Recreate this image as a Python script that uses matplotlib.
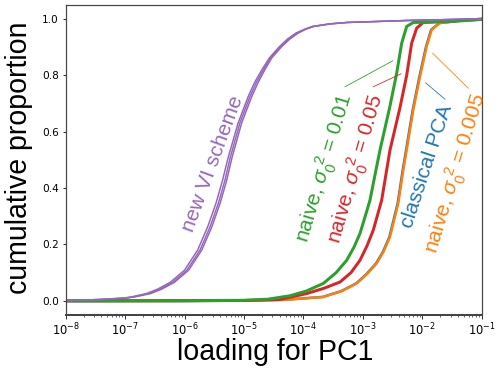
import matplotlib
matplotlib.use("Agg")
import matplotlib.pyplot as plt
import numpy as np

plt.rcParams['mathtext.fontset'] = 'custom'
plt.rcParams['mathtext.rm'] = 'Liberation Sans'
plt.rcParams['mathtext.it'] = 'Liberation Sans:italic'

# ---- data: log10(loading) vs cumulative proportion ----
purple_mid_logx = [-8.0, -7.42, -7.0, -6.87, -6.60, -6.41, -6.20, -5.96, -5.74, -5.57, -5.43,
                   -5.32, -5.235, -5.07, -4.90, -4.79, -4.675, -4.55, -4.39, -4.25, -4.11,
                   -3.97, -3.84, -3.55, -3.27, -2.26, -1.0]
purple_a_logx = [-8.0, -7.44, -7.03, -6.90, -6.64, -6.45, -6.24, -6.00, -5.78, -5.61, -5.47,
                 -5.36, -5.27, -5.10, -4.93, -4.82, -4.70, -4.57, -4.41, -4.27, -4.13,
                 -3.98, -3.85, -3.56, -3.27, -2.26, -1.0]
purple_b_logx = [-8.0, -7.40, -6.98, -6.84, -6.57, -6.38, -6.17, -5.93, -5.71, -5.54, -5.40,
                 -5.29, -5.205, -5.04, -4.87, -4.76, -4.65, -4.53, -4.37, -4.23, -4.09,
                 -3.96, -3.82, -3.54, -3.26, -2.25, -1.0]
purple_y = [0.001, 0.005, 0.010, 0.014, 0.026, 0.042, 0.066, 0.109, 0.180, 0.263, 0.347,
            0.428, 0.505, 0.630, 0.724, 0.775, 0.819, 0.862, 0.900, 0.928, 0.949,
            0.963, 0.973, 0.982, 0.987, 0.994, 1.0]

green_logx = [-8.0, -6.0, -5.0, -4.60, -4.23, -3.95, -3.665, -3.45, -3.272, -3.15, -3.048,
              -2.96, -2.88, -2.779, -2.711, -2.543, -2.43, -2.346, -2.262, -2.151, -1.533, -1.0]
green_y = [0.0, 0.0005, 0.002, 0.006, 0.018, 0.035, 0.062, 0.100, 0.144, 0.19, 0.239,
           0.30, 0.357, 0.464, 0.535, 0.691, 0.808, 0.914, 0.973, 0.987, 0.990, 0.998]

red_logx = [-8.0, -6.0, -5.0, -4.394, -3.945, -3.65, -3.384, -3.20, -3.048, -2.93, -2.824,
            -2.683, -2.599, -2.543, -2.375, -2.262, -2.178, -2.094, -1.983, -1.6, -1.0]
red_y = [0.0, 0.0005, 0.0015, 0.005, 0.026, 0.045, 0.067, 0.10, 0.144, 0.195, 0.251,
         0.357, 0.464, 0.535, 0.685, 0.800, 0.914, 0.967, 0.987, 0.992, 0.998]

orange_logx = [-8.0, -6.0, -5.0, -4.3, -3.665, -3.35, -3.103, -2.93, -2.767, -2.65, -2.543,
               -2.404, -2.319, -2.262, -2.151, -2.038, -1.926, -1.841, -1.702, -1.3, -1.0]
orange_y = [0.0, 0.0003, 0.001, 0.004, 0.014, 0.035, 0.062, 0.095, 0.133, 0.175, 0.227,
            0.346, 0.464, 0.535, 0.677, 0.795, 0.902, 0.961, 0.985, 0.995, 1.0]

blue_logx = [-8.0, -6.0, -5.0, -4.31, -3.675, -3.36, -3.113, -2.94, -2.777, -2.66, -2.553,
             -2.414, -2.329, -2.272, -2.161, -2.048, -1.936, -1.851, -1.712, -1.3, -1.0]
blue_y = [0.0, 0.0003, 0.001, 0.004, 0.014, 0.035, 0.062, 0.095, 0.133, 0.175, 0.227,
          0.346, 0.464, 0.535, 0.677, 0.795, 0.902, 0.961, 0.985, 0.995, 1.0]

labels = ["new VI scheme", r"naive, $\sigma_0^{\ 2}$ = 0.01", r"naive, $\sigma_0^{\ 2}$ = 0.05",
          "classical PCA", r"naive, $\sigma_0^{\ 2}$ = 0.005"]

C_PURPLE, C_GREEN, C_RED, C_BLUE, C_ORANGE = '#9467bd', '#2ca02c', '#d62728', '#1f77b4', '#ff7f0e'

fig = plt.figure(figsize=(498/72, 373/72), dpi=72)
ax = fig.add_axes([65.7/498, 1-315/373, (481.7-65.7)/498, (315-4.7)/373])

def X(v):
    return 10.0 ** np.asarray(v)

ax.plot(X(blue_logx), blue_y, color=C_BLUE, lw=2.5)
ax.plot(X(orange_logx), orange_y, color=C_ORANGE, lw=2.5)
ax.plot(X(red_logx), red_y, color=C_RED, lw=3)
ax.plot(X(green_logx), green_y, color=C_GREEN, lw=3)
for px in (purple_a_logx, purple_mid_logx, purple_b_logx):
    ax.plot(X(px), purple_y, color=C_PURPLE, lw=1.5)

ax.set_xscale('log')
ax.set_xlim(1e-8, 1e-1)
ax.set_ylim(-0.05, 1.05)
ax.set_yticks([0.0, 0.2, 0.4, 0.6, 0.8, 1.0])
ax.set_yticklabels(['0.0', '0.2', '0.4', '0.6', '0.8', '1.0'])
ax.tick_params(axis='y', labelsize=10.5)
ax.tick_params(axis='x', labelsize=11.5)
for s in ax.spines.values():
    s.set_color('#444444')
    s.set_linewidth(1.2)
ax.spines['bottom'].set_linewidth(2)

tf = dict(family='Liberation Sans', fontsize=21, rotation_mode='anchor', ha='center', va='center')
ax.text(10**-5.53, 0.487, labels[0], color=C_PURPLE, rotation=69.6, **tf)
ax.text(10**-3.637, 0.469, labels[1], color=C_GREEN, rotation=73.4, **tf)
ax.text(10**-3.103, 0.468, labels[2], color=C_RED, rotation=73.8, **tf)
ax.text(10**-1.921, 0.478, labels[3], color=C_BLUE, rotation=71.8, **tf)
ax.text(10**-1.433, 0.450, labels[4], color=C_ORANGE, rotation=73.0, **tf)

ax.plot(X([-3.300, -2.498]), [0.759, 0.851], color=C_GREEN, lw=0.8)
ax.plot(X([-2.824, -2.358]), [0.759, 0.805], color=C_RED, lw=0.8)
ax.plot(X([-1.618, -1.943]), [0.715, 0.773], color=C_BLUE, lw=0.8)
ax.plot(X([-1.226, -1.825]), [0.754, 0.878], color=C_ORANGE, lw=0.8)

fig.text(275/498, 1-360/373, 'loading for PC1', family='Liberation Sans', fontsize=28.5,
         ha='center', va='baseline')
fig.text(19/498, 1-158/373, 'cumulative proportion', family='Liberation Sans', fontsize=28.5,
         ha='center', va='center', rotation=90)

fig.savefig('out.png', dpi=72)
